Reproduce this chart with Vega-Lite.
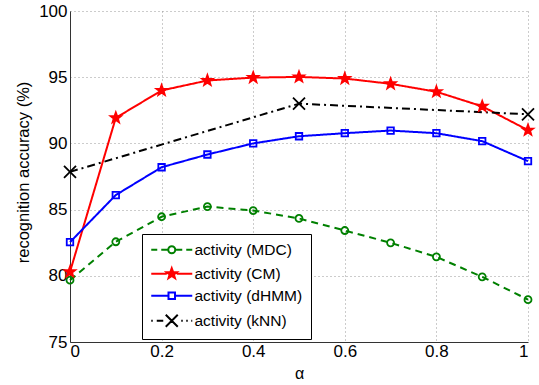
{
  "$schema": "https://vega.github.io/schema/vega-lite/v6.json",
  "autosize": {"type": "none"},
  "padding": {"left": 70, "top": 11, "right": 11, "bottom": 43},
  "width": 458,
  "height": 331,
  "background": "white",
  "config": {
    "view": {"stroke": null},
    "font": "Liberation Sans",
    "axis": {
      "labelFont": "Liberation Sans",
      "labelFontSize": 17,
      "labelColor": "black",
      "titleFont": "Liberation Sans",
      "titleFontSize": 16.5,
      "titleFontWeight": "normal",
      "titleColor": "black",
      "domainColor": "#333",
      "domainWidth": 1,
      "ticks": false,
      "gridColor": "#999",
      "gridDash": [1, 3],
      "gridWidth": 1
    },
    "legend": {
      "orient": "none",
      "legendX": 72,
      "legendY": 223,
      "padding": 8,
      "strokeColor": "black",
      "fillColor": "white",
      "labelFont": "Liberation Sans",
      "labelFontSize": 15.5,
      "labelColor": "black",
      "symbolSize": 100,
      "symbolStrokeWidth": 2,
      "symbolOffset": 14,
      "labelOffset": 15,
      "rowPadding": 5,
      "labelLimit": 300
    }
  },
  "data": {
    "values": [
      {"series": "activity (MDC)", "alpha": 0.0, "acc": 79.67},
      {"series": "activity (MDC)", "alpha": 0.1, "acc": 82.57},
      {"series": "activity (MDC)", "alpha": 0.2, "acc": 84.46},
      {"series": "activity (MDC)", "alpha": 0.3, "acc": 85.23},
      {"series": "activity (MDC)", "alpha": 0.4, "acc": 84.93},
      {"series": "activity (MDC)", "alpha": 0.5, "acc": 84.33},
      {"series": "activity (MDC)", "alpha": 0.6, "acc": 83.42},
      {"series": "activity (MDC)", "alpha": 0.7, "acc": 82.49},
      {"series": "activity (MDC)", "alpha": 0.8, "acc": 81.43},
      {"series": "activity (MDC)", "alpha": 0.9, "acc": 79.92},
      {"series": "activity (MDC)", "alpha": 1.0, "acc": 78.2},
      {"series": "activity (CM)", "alpha": 0.0, "acc": 80.3},
      {"series": "activity (CM)", "alpha": 0.1, "acc": 91.93},
      {"series": "activity (CM)", "alpha": 0.2, "acc": 94.0},
      {"series": "activity (CM)", "alpha": 0.3, "acc": 94.75},
      {"series": "activity (CM)", "alpha": 0.4, "acc": 94.97},
      {"series": "activity (CM)", "alpha": 0.5, "acc": 95.02},
      {"series": "activity (CM)", "alpha": 0.6, "acc": 94.9},
      {"series": "activity (CM)", "alpha": 0.7, "acc": 94.5},
      {"series": "activity (CM)", "alpha": 0.8, "acc": 93.9},
      {"series": "activity (CM)", "alpha": 0.9, "acc": 92.8},
      {"series": "activity (CM)", "alpha": 1.0, "acc": 91.0},
      {"series": "activity (dHMM)", "alpha": 0.0, "acc": 82.54},
      {"series": "activity (dHMM)", "alpha": 0.1, "acc": 86.1},
      {"series": "activity (dHMM)", "alpha": 0.2, "acc": 88.2},
      {"series": "activity (dHMM)", "alpha": 0.3, "acc": 89.16},
      {"series": "activity (dHMM)", "alpha": 0.4, "acc": 90.0},
      {"series": "activity (dHMM)", "alpha": 0.5, "acc": 90.54},
      {"series": "activity (dHMM)", "alpha": 0.6, "acc": 90.77},
      {"series": "activity (dHMM)", "alpha": 0.7, "acc": 90.97},
      {"series": "activity (dHMM)", "alpha": 0.8, "acc": 90.77},
      {"series": "activity (dHMM)", "alpha": 0.9, "acc": 90.17},
      {"series": "activity (dHMM)", "alpha": 1.0, "acc": 88.66},
      {"series": "activity (kNN)", "alpha": 0.0, "acc": 87.85},
      {"series": "activity (kNN)", "alpha": 0.5, "acc": 93.0},
      {"series": "activity (kNN)", "alpha": 1.0, "acc": 92.2}
    ]
  },
  "encoding": {
    "x": {
      "field": "alpha",
      "type": "quantitative",
      "scale": {"domain": [0, 1], "nice": false, "zero": false},
      "axis": {
        "title": "α",
        "values": [0, 0.2, 0.4, 0.6, 0.8, 1],
        "format": "~g",
        "labelPadding": 1,
        "titleBaseline": "middle",
        "titleY": 31,
        "titleFontSize": 16
      }
    },
    "y": {
      "field": "acc",
      "type": "quantitative",
      "scale": {"domain": [75, 100], "nice": false, "zero": false},
      "axis": {
        "title": "recognition accuracy (%)",
        "values": [75, 80, 85, 90, 95, 100],
        "labelPadding": 3,
        "titleBaseline": "middle",
        "titleAngle": -90,
        "titleX": -46.5,
        "titleY": 161
      }
    }
  },
  "layer": [
    {
      "mark": {"type": "line", "strokeWidth": 2},
      "encoding": {
        "color": {
          "field": "series",
          "type": "nominal",
          "scale": {
            "domain": ["activity (MDC)", "activity (CM)", "activity (dHMM)", "activity (kNN)"],
            "range": ["#008000", "#ff0000", "#0000ff", "#000000"]
          },
          "legend": null
        },
        "strokeDash": {
          "field": "series",
          "type": "nominal",
          "scale": {
            "domain": ["activity (MDC)", "activity (CM)", "activity (dHMM)", "activity (kNN)"],
            "range": [[7, 5], [1, 0], [1, 0], [8, 4, 2, 4]]
          },
          "legend": null
        }
      }
    },
    {
      "mark": {"type": "point", "strokeWidth": 1.8, "opacity": 1, "size": 100},
      "encoding": {
        "shape": {
          "field": "series",
          "type": "nominal",
          "scale": {
            "domain": ["activity (MDC)", "activity (CM)", "activity (dHMM)", "activity (kNN)"],
            "range": [
              "M0.7,0A0.7,0.7 0 1,1 -0.7,0A0.7,0.7 0 1,1 0.7,0Z",
              "M0,-1.1L0.265,-0.364L1.046,-0.34L0.428,0.139L0.647,0.89L0,0.45L-0.647,0.89L-0.428,0.139L-1.046,-0.34L-0.265,-0.364Z",
              "M-0.65,-0.65L0.65,-0.65L0.65,0.65L-0.65,0.65Z",
              "M-1.2,-1.2L1.2,1.2M-1.2,1.2L1.2,-1.2"
            ]
          },
          "legend": null
        },
        "stroke": {
          "field": "series",
          "type": "nominal",
          "scale": {
            "domain": ["activity (MDC)", "activity (CM)", "activity (dHMM)", "activity (kNN)"],
            "range": ["#008000", "#ff0000", "#0000ff", "#000000"]
          },
          "legend": null
        },
        "fill": {
          "field": "series",
          "type": "nominal",
          "scale": {
            "domain": ["activity (MDC)", "activity (CM)", "activity (dHMM)", "activity (kNN)"],
            "range": ["transparent", "#ff0000", "transparent", "transparent"]
          },
          "legend": null
        }
      }
    },
    {
      "transform": [{"filter": "datum.alpha > 5"}],
      "mark": {"type": "point", "strokeWidth": 2, "opacity": 1, "size": 100},
      "encoding": {
        "shape": {
          "field": "series",
          "type": "nominal",
          "title": null,
          "scale": {
            "domain": ["activity (MDC)", "activity (CM)", "activity (dHMM)", "activity (kNN)"],
            "range": [
              "M-4.1,0L-2.9,0M-2.1,0L-0.7,0M0.7,0L2.1,0M2.9,0L4.1,0M0.7,0A0.7,0.7 0 1,1 -0.7,0A0.7,0.7 0 1,1 0.7,0Z",
              "M-4.1,0L-1.0,0M1.0,0L4.1,0M0,-1.1L0.265,-0.364L1.046,-0.34L0.428,0.139L0.647,0.89L0,0.45L-0.647,0.89L-0.428,0.139L-1.046,-0.34L-0.265,-0.364Z",
              "M-4.1,0L-0.65,0M0.65,0L4.1,0M-0.65,-0.65L0.65,-0.65L0.65,0.65L-0.65,0.65Z",
              "M-4.1,0L-3.8,0M-3.0,0L-1.7,0M-1.2,-1.2L1.2,1.2M-1.2,1.2L1.2,-1.2M1.9,0L2.2,0M2.9,0L3.2,0M3.9,0L4.1,0"
            ]
          },
          "legend": {
            "labelExpr": "datum.label + '\u00a0\u00a0\u00a0\u00a0\u00a0\u00a0\u00a0\u00a0\u00a0\u00a0\u00a0'",
            "encode": {"legend": {"update": {"strokeWidth": {"value": 2}}}}
          }
        },
        "stroke": {
          "field": "series",
          "type": "nominal",
          "title": null,
          "scale": {
            "domain": ["activity (MDC)", "activity (CM)", "activity (dHMM)", "activity (kNN)"],
            "range": ["#008000", "#ff0000", "#0000ff", "#000000"]
          }
        },
        "fill": {
          "field": "series",
          "type": "nominal",
          "title": null,
          "scale": {
            "domain": ["activity (MDC)", "activity (CM)", "activity (dHMM)", "activity (kNN)"],
            "range": ["transparent", "#ff0000", "transparent", "transparent"]
          }
        }
      }
    }
  ],
  "resolve": {
    "scale": {"shape": "independent", "stroke": "independent", "fill": "independent", "color": "independent"}
  }
}
